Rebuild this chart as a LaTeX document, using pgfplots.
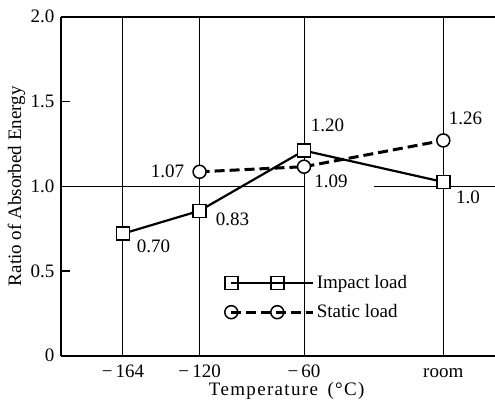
\documentclass[border=0pt]{standalone}
\usepackage{pgfplots}
\pgfplotsset{compat=1.18}
\usepackage{fontspec}
\setmainfont{Liberation Serif}
\newfontfamily\spaced{Liberation Serif}[LetterSpace=7]

\begin{document}
\fontsize{19}{22}\selectfont
\begin{tikzpicture}
\begin{axis}[
    at={(0pt,0pt)}, anchor=south west,
    scale only axis,
    width=434pt, height=339pt,
    xmin=-199.6, xmax=49.7,
    ymin=0, ymax=2,
    axis x line=box, axis y line=left,
    axis line style={-, line width=2.2pt},
    xtick={-164,-120,-60,20},
    xticklabels={−\,164, −\,120, −\,60, room},
    ytick={0,0.5,1,1.5,2},
    yticklabels={0,0.5,1.0,1.5,2.0},
    xmajorgrids,
    grid style={black, line width=1pt},
    x tick style={draw=none},
    y tick style={black, line width=1.2pt},
    major tick length=9pt,
    tick align=inside,
    xticklabel style={anchor=base, yshift=-22pt},
    xlabel={{\spaced Temperature\enspace(°C)}},
    xlabel style={at={(axis description cs:0.52,-0.116)}, anchor=base},
    ylabel={Ratio of Absorbed Energy},
    ylabel style={at={(axis description cs:-0.092,0.5)}, anchor=base},
    legend style={draw=none, fill=none, row sep=9pt,
        at={(axis description cs:0.37,0.25)}, anchor=north west},
    legend cell align=left,
    legend image code/.code={
        \draw[#1] plot coordinates {(0pt,0pt) (46pt,0pt)};
        \path (0pt,0pt) -- (82pt,0pt);
    },
]
% horizontal reference line at 1.0 (broken near the -60 label in the original)
\addplot[black, line width=1pt, forget plot] coordinates {(-199.6,1) (-60,1)};
\addplot[black, line width=1pt, forget plot] coordinates {(-20,1) (49.7,1)};

\addplot[black, line width=2.2pt, mark=square*, mark size=6.5pt,
    mark options={solid, fill=white, line width=1.5pt}]
    coordinates {(-164,0.72) (-120,0.855) (-60,1.21) (20,1.025)};
\addlegendentry{Impact load}

\addplot[black, line width=3pt, dash pattern=on 10pt off 5pt, mark=*, mark size=6.5pt,
    mark options={solid, fill=white, line width=1.5pt}]
    coordinates {(-120,1.085) (-60,1.115) (20,1.27)};
\addlegendentry{Static load}

\node at (axis cs:-146.5,0.644) {0.70};
\node at (axis cs:-101.1,0.806) {0.83};
\node at (axis cs:-138.4,1.09) {1.07};
\node at (axis cs:-46.5,1.361) {1.20};
\node at (axis cs:-44.5,1.028) {1.09};
\node at (axis cs:32.7,1.40) {1.26};
\node at (axis cs:34.2,0.936) {1.0};
\end{axis}
\pgfresetboundingbox
\path (-61pt,-47.3pt) rectangle (434pt,355.7pt);
\end{tikzpicture}
\end{document}
